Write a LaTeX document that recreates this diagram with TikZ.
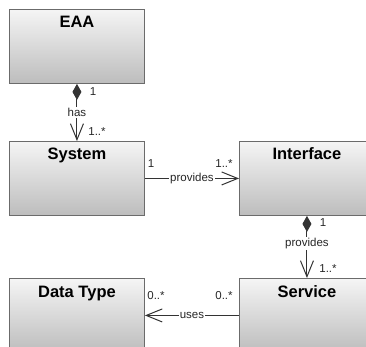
\documentclass[tikz,border=0pt]{standalone}
\usepackage{fontspec}
\setmainfont{Liberation Sans}
\usetikzlibrary{arrows.meta}

\tikzset{
  namefont/.style={font=\bfseries\fontsize{16.5}{19}\selectfont, text=black},
  labfont/.style={font=\fontsize{11.5}{13}\selectfont, text=black!85},
  umlbox/.style={draw=black!58, line width=0.9pt, top color=gray!8, bottom color=gray!52,
    minimum width=135pt, minimum height=74pt, anchor=north west, inner sep=0pt,
    label={[namefont, anchor=base, yshift=-19pt]north:#1}},
  conn/.style={draw=black!80, line width=1pt},
  lab/.style={labfont, fill=white, inner sep=1pt},
  mult/.style={labfont, inner sep=0pt},
  compo/.style={-{Straight Barb[length=16pt,width=13pt,line width=1pt]}},
}

\begin{document}
\begin{tikzpicture}[x=1pt, y=-1pt]
  \useasboundingbox (0,0) rectangle (366,347);

  % classes
  \node[umlbox=EAA]       (eaa)       at (9,9)     {};
  \node[umlbox=System]    (system)    at (9,141)   {};
  \node[umlbox=Interface] (interface) at (239,141) {};
  \node[umlbox=Data Type] (datatype)  at (9,278)   {};
  \node[umlbox=Service]   (service)   at (239,278) {};

  % associations
  \draw[conn, {Diamond[length=16pt,width=9pt]}-{Straight Barb[length=16pt,width=13pt,line width=1pt]}]
    (eaa.south) -- node[lab] {has} (system.north);
  \draw[conn, compo]
    (system.east) -- node[lab] {provides} (interface.west);
  \draw[conn, {Diamond[length=16pt,width=9pt]}-{Straight Barb[length=16pt,width=13pt,line width=1pt]}]
    (interface.south) -- node[lab, pos=0.45] {provides} (service.north);
  \draw[conn, compo]
    (service.west) -- node[lab] {uses} (datatype.east);

  % multiplicities
  \node[mult] (m1) at (93,92)   {1};
  \node[mult] (m2) at (97,132)  {1..*};
  \node[mult] (m3) at (151,164) {1};
  \node[mult] (m4) at (224,164) {1..*};
  \node[mult] (m5) at (323,223) {1};
  \node[mult] (m6) at (328,269) {1..*};
  \node[mult] (m7) at (156,296) {0..*};
  \node[mult] (m8) at (224,296) {0..*};
\end{tikzpicture}
\end{document}
